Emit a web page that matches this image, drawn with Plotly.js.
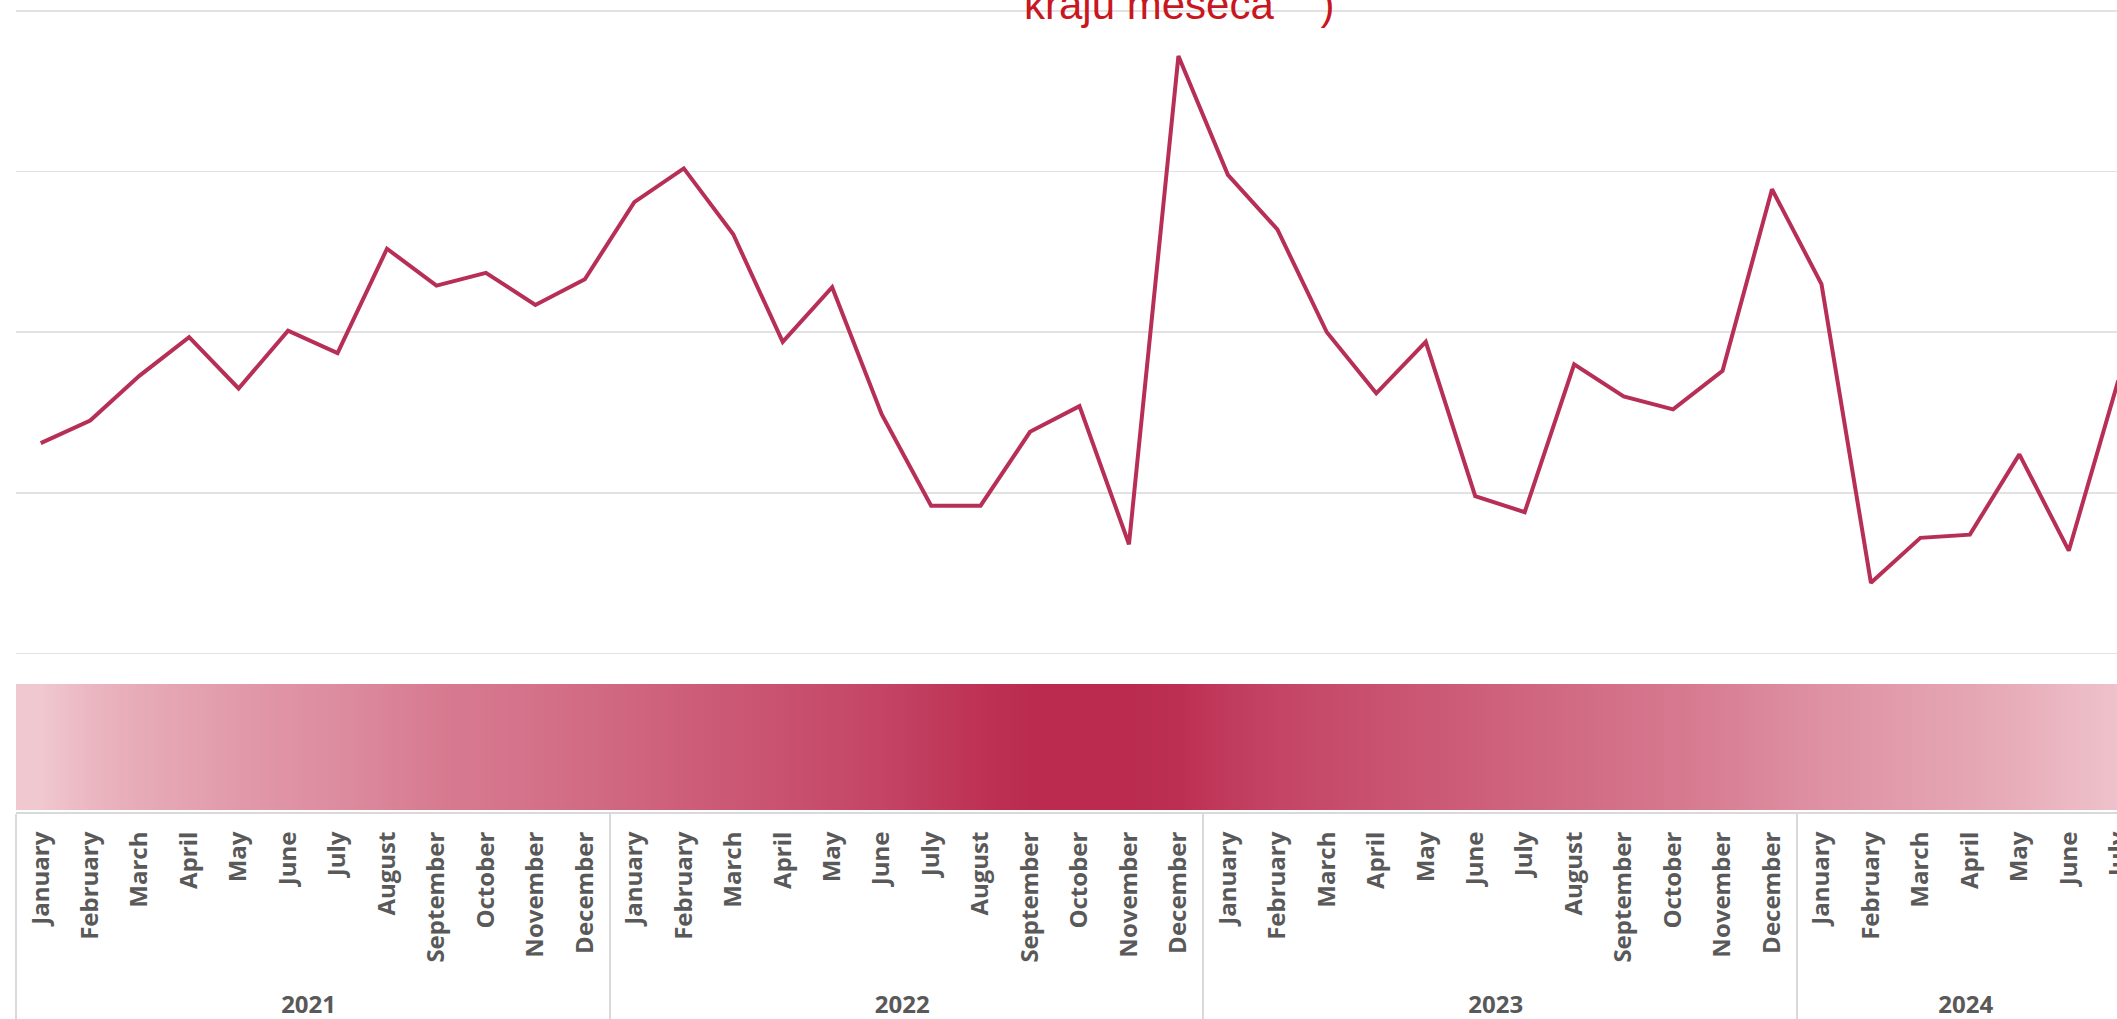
<!DOCTYPE html>
<html>
<head>
<meta charset="utf-8">
<script src="https://cdn.plot.ly/plotly-3.0.1.min.js"></script>
<style>
  html, body { margin: 0; padding: 0; overflow: hidden; background: #ffffff; }
  #chart { width: 2143px; height: 1019px; }
</style>
</head>
<body>
<div id="chart"></div>
<script>
// ---- data (y in gridline units) ----
const years = ['2021', '2022', '2023', '2024'];
const monthNames = ['January', 'February', 'March', 'April', 'May', 'June',
                    'July', 'August', 'September', 'October', 'November', 'December'];
const values2021 = [1.31, 1.45, 1.73, 1.97, 1.65, 2.01, 1.87, 2.52, 2.29, 2.37, 2.17, 2.33];
const values2022 = [2.81, 3.02, 2.61, 1.94, 2.28, 1.49, 0.92, 0.92, 1.38, 1.54, 0.68, 3.72];
const values2023 = [2.98, 2.64, 2.00, 1.62, 1.94, 0.98, 0.88, 1.80, 1.60, 1.52, 1.76, 2.89];
const values2024 = [2.30, 0.44, 0.72, 0.74, 1.24, 0.64, 1.70];
// intensity of the colour band under the line chart, one value per month
const bandIntensity = [0.05, 0.15, 0.22, 0.27, 0.32, 0.36, 0.40, 0.45, 0.50, 0.53, 0.56, 0.60,
                       0.64, 0.68, 0.72, 0.76, 0.80, 0.84, 0.90, 0.96, 1.00, 1.00, 1.00, 0.98,
                       0.90, 0.84, 0.80, 0.76, 0.72, 0.68, 0.64, 0.60, 0.56, 0.52, 0.47, 0.42,
                       0.37, 0.33, 0.29, 0.25, 0.20, 0.14, 0.08];
const titleText = 'kraju meseca\u00a0\u00a0\u00a0\u00a0)';

// ---- build traces ----
const seriesByYear = [values2021, values2022, values2023, values2024];
const pad = '\u00a0\u00a0';   // invisible lead-in: keeps the year row a little lower
const xYear = [], xMonth = [], yVals = [], idx = [];
seriesByYear.forEach((vals, yi) => {
  vals.forEach((v, mi) => {
    xYear.push(years[yi]);
    xMonth.push(pad + monthNames[mi]);
    yVals.push(v);
    idx.push(idx.length);
  });
});

const H = 1019;
const px = v => (H - v) / H;   // pixel-from-top -> paper fraction

const lineTrace = {
  type: 'scatter',
  mode: 'lines',
  x: [xYear, xMonth],
  y: yVals,
  xaxis: 'x',
  yaxis: 'y',
  line: { color: '#b72f56', width: 4, shape: 'linear' },
  hoverinfo: 'skip',
  showlegend: false
};

const bandTrace = {
  type: 'heatmap',
  x: idx,
  y: [0, 1],
  z: [bandIntensity, bandIntensity],
  xaxis: 'x2',
  yaxis: 'y2',
  zmin: 0, zmax: 1,
  zsmooth: 'best',
  colorscale: [[0, '#f3d0d6'], [0.5, '#d77b91'], [1, '#bb2b50']],
  showscale: false,
  hoverinfo: 'skip'
};

const n = idx.length;
// gridlines at 0..4 sit at pixel rows 653.5 .. 11; extend the range a hair so both end gridlines draw
const eps = 0.02;
const pxPerUnit = (653.5 - 11) / 4;
const layout = {
  width: 2143,
  height: H,
  margin: { l: 16, r: 0, t: 0, b: 0, pad: 0 },
  paper_bgcolor: '#ffffff',
  plot_bgcolor: '#ffffff',
  showlegend: false,
  font: { family: 'Open Sans, sans-serif', color: '#595959' },
  xaxis: {
    type: 'multicategory',
    anchor: 'free',
    position: px(813),
    range: [-0.5, n - 0.5],
    showgrid: false,
    zeroline: false,
    showline: true,
    linecolor: '#d9d9d9',
    linewidth: 2,
    ticks: 'outside',
    ticklen: 26,
    tickcolor: 'rgba(0,0,0,0)',
    ticklabelstandoff: 8,
    tickangle: -90,
    tickfont: { family: 'Open Sans, sans-serif', size: 24, color: '#595959', weight: 700 },
    showdividers: true,
    dividercolor: '#d9d9d9',
    dividerwidth: 2,
    automargin: false,
    fixedrange: true
  },
  yaxis: {
    domain: [px(653.5 + eps * pxPerUnit), px(11 - eps * pxPerUnit)],
    range: [-eps, 4 + eps],
    tick0: 0,
    dtick: 1,
    showticklabels: false,
    showgrid: true,
    gridcolor: '#e2e2e2',
    gridwidth: 1.6,
    zeroline: false,
    showline: false,
    ticks: '',
    fixedrange: true
  },
  xaxis2: {
    anchor: 'y2',
    range: [-0.5, n - 0.5],
    visible: false,
    fixedrange: true
  },
  yaxis2: {
    domain: [px(810), px(684)],
    range: [-0.5, 1.5],
    visible: false,
    fixedrange: true
  },
  annotations: [{
    xref: 'paper', yref: 'paper',
    x: (1022 - 16) / 2127, xanchor: 'left',
    y: px(30), yanchor: 'bottom',
    text: titleText,
    showarrow: false,
    font: { family: 'Liberation Sans, Arial, sans-serif', size: 42, color: '#c8171f' }
  }]
};

Plotly.newPlot('chart', [bandTrace, lineTrace], layout, { displayModeBar: false, staticPlot: true });
</script>
</body>
</html>
